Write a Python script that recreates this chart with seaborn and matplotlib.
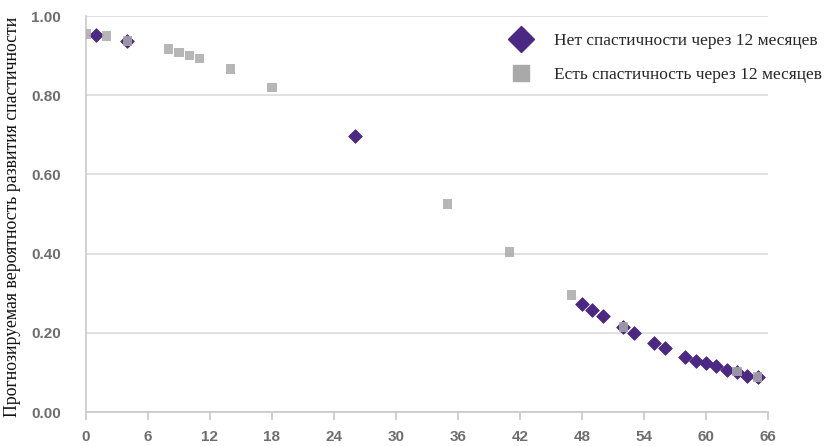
import matplotlib
matplotlib.use("Agg")
import matplotlib.pyplot as plt
from matplotlib.lines import Line2D
from matplotlib.font_manager import FontProperties
import seaborn as sns
import pandas as pd

# Months after stroke and predicted probability of spasticity
no_spast_month = [1, 4, 26, 48, 49, 50, 52, 53, 55, 56, 58, 59, 60, 61, 62, 63, 64, 65]
no_spast_prob = [0.952, 0.937, 0.697, 0.273, 0.258, 0.242, 0.215, 0.200, 0.175, 0.161,
                 0.140, 0.130, 0.124, 0.116, 0.106, 0.102, 0.090, 0.088]

spast_month = [0, 2, 4, 8, 9, 10, 11, 14, 18, 35, 41, 47, 52, 63, 65]
spast_prob = [0.955, 0.950, 0.937, 0.917, 0.908, 0.900, 0.893, 0.866, 0.820,
              0.525, 0.404, 0.295, 0.215, 0.102, 0.088]

x_ticks = list(range(0, 67, 6))
y_ticks = [0.0, 0.2, 0.4, 0.6, 0.8, 1.0]

label_no = "Нет спастичности через 12 месяцев"
label_yes = "Есть спастичность через 12 месяцев"
y_label = "Прогнозируемая вероятность развития спастичности"

PURPLE = "#4a2883"
GRAY = "#a9a9a9"
TICK_COLOR = "#6e6e6e"
GRID_COLOR = "#dcdcdc"

sns.set_theme(style="white")
plt.rcParams["font.family"] = ["Liberation Sans Narrow", "Liberation Sans", "DejaVu Sans"]
plt.rcParams["font.serif"] = ["Liberation Serif", "DejaVu Serif"]

serif_font = FontProperties(family="serif", size=12.5)
ylabel_font = FontProperties(family="serif", size=12.8)

fig = plt.figure(figsize=(8.32, 4.46), dpi=100)
ax = fig.add_axes([86 / 832, 1 - 412 / 446, (768 - 86) / 832, (412 - 16) / 446])

df_no = pd.DataFrame({"month": no_spast_month, "prob": no_spast_prob})
df_yes = pd.DataFrame({"month": spast_month, "prob": spast_prob})

sns.scatterplot(data=df_no, x="month", y="prob", marker="D", s=48, color=PURPLE,
                edgecolor=PURPLE, linewidth=0.6, ax=ax, zorder=3, legend=False)
sns.scatterplot(data=df_yes, x="month", y="prob", marker="s", s=46, color=GRAY,
                edgecolor="none", alpha=0.85, ax=ax, zorder=4, legend=False)

ax.set_xlim(0, 66)
ax.set_ylim(0, 1.0)
ax.set_xticks(x_ticks)
ax.set_yticks(y_ticks)
ax.set_yticklabels([f"{v:.2f}" for v in y_ticks])
ax.yaxis.grid(True, color=GRID_COLOR, linewidth=1.2)
ax.set_axisbelow(True)

for side in ("top", "right"):
    ax.spines[side].set_visible(False)
for side in ("left", "bottom"):
    ax.spines[side].set_color("#c8c8c8")
    ax.spines[side].set_linewidth(1.2)

ax.tick_params(axis="x", which="major", bottom=True, length=6, width=1.2,
               color="#c8c8c8", labelsize=11, labelcolor=TICK_COLOR, pad=7)
ax.tick_params(axis="y", which="major", left=False, labelsize=11,
               labelcolor=TICK_COLOR, pad=12)
for lab in ax.get_xticklabels() + ax.get_yticklabels():
    lab.set_fontweight("bold")

ax.set_xlabel("")
ax.set_ylabel("")
fig.text(13 / 832, 1 - 217 / 446, y_label, rotation=90, va="center", ha="center",
         fontproperties=ylabel_font, color="#111111")

handles = [
    Line2D([], [], linestyle="none", marker="D", markersize=13, color=PURPLE),
    Line2D([], [], linestyle="none", marker="s", markersize=12, color=GRAY),
]
fig.legend(handles, [label_no, label_yes], loc="upper left",
           bbox_to_anchor=(497 / 832, 1 - 26 / 446), frameon=False,
           prop=serif_font, handletextpad=0.9, labelspacing=1.0, borderaxespad=0)

fig.savefig("out.png", dpi=100)
